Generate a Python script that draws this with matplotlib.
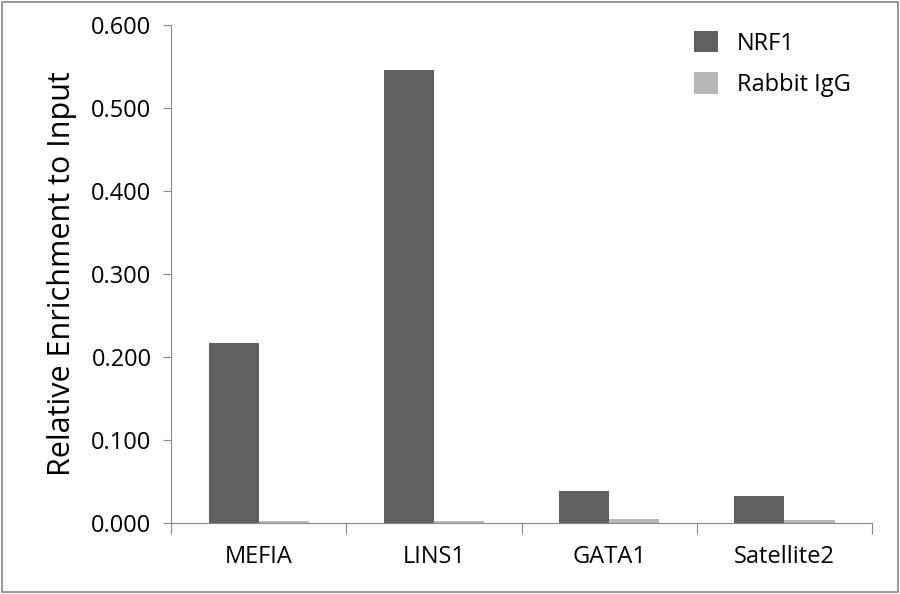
import matplotlib
matplotlib.use("Agg")
import matplotlib.pyplot as plt
import numpy as np

categories = ["MEFIA", "LINS1", "GATA1", "Satellite2"]
nrf1 = [0.217, 0.546, 0.039, 0.033]
igg = [0.003, 0.002, 0.005, 0.004]
yticks = [0.0, 0.1, 0.2, 0.3, 0.4, 0.5, 0.6]

plt.rcParams['font.family'] = ['Open Sans', 'DejaVu Sans']

fig = plt.figure(figsize=(9, 5.94), dpi=100)
ax = fig.add_axes([0.19, 0.1195, 0.779, 0.8385])
x = np.arange(len(categories))
w = 0.286
ax.bar(x - w / 2, nrf1, w, color="#606060", label="NRF1")
ax.bar(x + w / 2, igg, w, color="#b8b8b8", label="Rabbit IgG")

ax.set_xlim(-0.5, len(categories) - 0.5)
ax.set_ylim(0, 0.6)
ax.set_yticks(yticks)
ax.set_yticklabels([f"{v:.3f}" for v in yticks], fontsize=17)
ax.set_xticks(np.arange(len(categories) + 1) - 0.5, minor=False)
ax.set_xticklabels([])
ax.set_xticks(x, minor=True)
ax.set_xticklabels(categories, minor=True, fontsize=17)
ax.tick_params(axis="x", which="major", length=8, direction="out", color="#888888")
ax.tick_params(axis="x", which="minor", length=0, pad=16)
ax.tick_params(axis="y", length=6, direction="out", color="#888888", pad=8)
for s in ["top", "right"]:
    ax.spines[s].set_visible(False)
ax.spines["left"].set_color("#888888")
ax.spines["bottom"].set_color("#888888")
ax.set_ylabel("Relative Enrichment to Input", fontsize=22, labelpad=10)

ax.legend(loc="upper right", bbox_to_anchor=(1.0, 1.03), frameon=False, fontsize=17,
          handlelength=1.0, handleheight=1.0, labelspacing=0.7)

fig.patches.append(plt.Rectangle((0.002, 0.003), 0.996, 0.994, transform=fig.transFigure,
                                 fill=False, edgecolor="#888888", linewidth=1.2))
fig.savefig("out.png", dpi=100)
